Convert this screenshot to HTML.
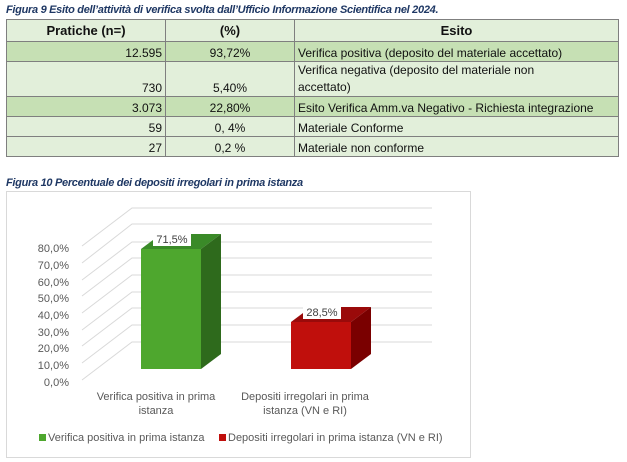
<!DOCTYPE html>
<html><head><meta charset="utf-8"><style>
body{margin:0;width:627px;height:462px;background:#fff;position:relative;overflow:hidden;font-family:"Liberation Sans",sans-serif}
.t{position:absolute;font-weight:bold;font-style:italic;color:#1f3864;font-size:11px;letter-spacing:-0.3px;white-space:nowrap}
table{position:absolute;left:6px;top:19px;width:613px;border-collapse:collapse;font-size:12px;color:#111}
td{border:1px solid #7f7f7f;padding:0 3px;height:19px;line-height:15px;background:#e2efda;vertical-align:bottom;white-space:nowrap}
tr.d td{background:#c6e0b4}
th{border:1px solid #7f7f7f;background:#e2efda;height:19px;font-size:13px}
td.r{text-align:right}td.c{text-align:center}
</style></head><body>
<div class="t" style="left:6px;top:4px">Figura 9 Esito dell’attività di verifica svolta dall’Ufficio Informazione Scientifica nel 2024.</div>
<table>
<colgroup><col style="width:159px"><col style="width:129px"><col></colgroup>
<tr><th>Pratiche (n=)</th><th>(%)</th><th>Esito</th></tr>
<tr class="d"><td class="r">12.595</td><td class="c">93,72%</td><td>Verifica positiva (deposito del materiale accettato)</td></tr>
<tr><td class="r" style="height:34px">730</td><td class="c">5,40%</td><td style="line-height:17px">Verifica negativa (deposito del materiale non<br>accettato)</td></tr>
<tr class="d"><td class="r">3.073</td><td class="c">22,80%</td><td>Esito Verifica Amm.va Negativo - Richiesta integrazione</td></tr>
<tr><td class="r">59</td><td class="c">0, 4%</td><td>Materiale Conforme</td></tr>
<tr><td class="r">27</td><td class="c">0,2 %</td><td>Materiale non conforme</td></tr>
</table>
<div class="t" style="left:6px;top:177px">Figura 10 Percentuale dei depositi irregolari in prima istanza</div>
<svg width="627" height="462" style="position:absolute;left:0;top:0" font-family="Liberation Sans,sans-serif">
<rect x="6.5" y="191.5" width="464" height="266" fill="none" stroke="#d9d9d9"/>
<g stroke="#d9d9d9" stroke-width="1" fill="none">
<path d="M82 380L132 342H432M82 363L132 325H432M82 346L132 308H432M82 330L132 292H432M82 313L132 275H432M82 296L132 258H432M82 280L132 242H432M82 263L132 224H432M82 246L132 208H432"/>
</g>
<g font-size="11" fill="#595959" text-anchor="end">
<text x="69" y="386">0,0%</text><text x="69" y="369">10,0%</text><text x="69" y="352">20,0%</text><text x="69" y="336">30,0%</text><text x="69" y="319">40,0%</text><text x="69" y="302">50,0%</text><text x="69" y="286">60,0%</text><text x="69" y="269">70,0%</text><text x="69" y="252">80,0%</text>
</g>
<polygon points="141,249 161,234 221,234 201,249" fill="#3a8a28"/>
<polygon points="201,249 221,234 221,354 201,369" fill="#2e6a1c"/>
<rect x="141" y="249" width="60" height="120" fill="#4ea72e"/>
<polygon points="291,322 311,307 371,307 351,322" fill="#9a0a0a"/>
<polygon points="351,322 371,307 371,354 351,369" fill="#7a0000"/>
<rect x="291" y="322" width="60" height="47" fill="#c00f0c"/>
<rect x="153" y="233" width="38" height="13" fill="#fff"/>
<rect x="303" y="306" width="38" height="13" fill="#fff"/>
<g font-size="11" fill="#404040" text-anchor="middle">
<text x="172" y="243">71,5%</text><text x="322" y="316">28,5%</text>
</g>
<g font-size="11" fill="#595959" text-anchor="middle">
<text x="156" y="400">Verifica positiva in prima</text><text x="156" y="414">istanza</text>
<text x="305" y="400">Depositi irregolari in prima</text><text x="305" y="414">istanza (VN e RI)</text>
</g>
<rect x="39" y="434" width="7" height="7" fill="#4ea72e"/>
<rect x="219" y="434" width="7" height="7" fill="#c00f0c"/>
<g font-size="11" fill="#595959">
<text x="48" y="441">Verifica positiva in prima istanza</text>
<text x="228" y="441">Depositi irregolari in prima istanza (VN e RI)</text>
</g>
</svg>
</body></html>
